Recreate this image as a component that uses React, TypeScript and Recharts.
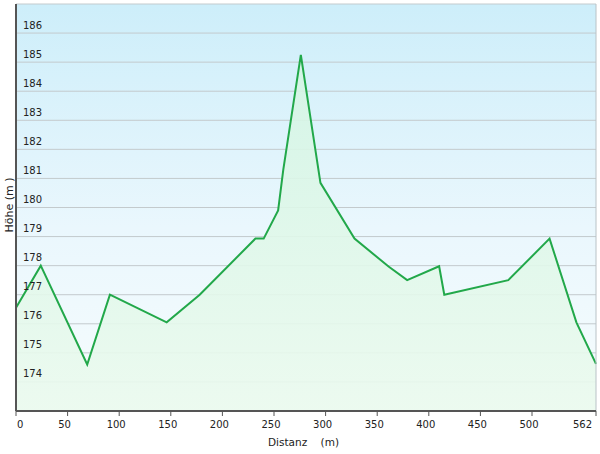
import React from 'react';
import { AreaChart, Area, XAxis, YAxis, CartesianGrid, ReferenceLine } from 'recharts';

const distances = [0, 24, 69, 91, 146, 178, 232, 240, 254, 259, 276, 295, 328, 361, 379, 410, 415, 477, 517, 543, 562];
const elevations = [176.55, 178.0, 174.6, 177.0, 176.05, 177.0, 178.93, 178.93, 179.9, 181.3, 185.25, 180.85, 178.93, 177.97, 177.5, 177.98, 177.0, 177.5, 178.93, 176.05, 174.62];
const xTicks = [0, 50, 100, 150, 200, 250, 300, 350, 400, 450, 500, 562];
const yTicks = [173, 174, 175, 176, 177, 178, 179, 180, 181, 182, 183, 184, 185, 186, 187];

const data = distances.map((d, i) => ({ d, h: elevations[i] }));

const FONT = '"DejaVu Sans", Verdana, sans-serif';

const XTick = (props: any) => {
  const { x, y, payload } = props;
  const v = payload.value;
  let anchor: 'start' | 'middle' | 'end' = 'middle';
  let dx = -3;
  if (v === 0) { anchor = 'start'; dx = 1; }
  if (v === 562) { anchor = 'end'; dx = -4; }
  return (
    <text x={x + dx} y={y - 1} dy="0.71em" textAnchor={anchor} fontFamily={FONT} fontSize={10} fill="#222">
      {v}
    </text>
  );
};

const YTick = (props: any) => {
  const { y, payload } = props;
  const v = payload.value;
  if (v === 173 || v === 187) return <g />;
  return (
    <text x={23} y={y - 8} dy="0.35em" textAnchor="start" fontFamily={FONT} fontSize={10} fill="#222">
      {v}
    </text>
  );
};

export default function App() {
  return (
    <div style={{ position: 'absolute', left: 0, top: 0, width: 600, height: 454, background: '#fff' }}>
      <AreaChart width={600} height={454} data={data} margin={{ top: 4, right: 4, bottom: 13, left: 15 }}>
        <defs>
          <linearGradient id="bg" x1="0" y1="0" x2="0" y2="1">
            <stop offset="0%" stopColor="#cdeefa" />
            <stop offset="55%" stopColor="#eaf7fd" />
            <stop offset="100%" stopColor="#f6fcfd" />
          </linearGradient>
          <linearGradient id="areaFill" x1="0" y1="0" x2="0" y2="1">
            <stop offset="0%" stopColor="#d4f5e4" stopOpacity={0.9} />
            <stop offset="100%" stopColor="#ebfaee" stopOpacity={0.9} />
          </linearGradient>
        </defs>
        <CartesianGrid vertical={false} stroke="#c3cacd" strokeWidth={1} fill="url(#bg)" fillOpacity={1} />
        <XAxis
          dataKey="d"
          type="number"
          domain={[0, 562]}
          ticks={xTicks}
          interval={0}
          height={30}
          tick={<XTick />}
          tickSize={5}
          tickMargin={6}
          axisLine={{ stroke: '#555', strokeWidth: 2 }}
          tickLine={{ stroke: '#555' }}
          label={{
            content: () => (
              <text x={303.5} y={442} dy="0.35em" textAnchor="middle" fontFamily={FONT} fontSize={10.5} fill="#222" style={{ whiteSpace: 'pre' }}>
                {'Distanz    (m)'}
              </text>
            ),
          }}
        />
        <ReferenceLine x={562} stroke="#b9c2c6" strokeWidth={1} />
        <Area
          type="linear"
          dataKey="h"
          stroke="#22a84a"
          strokeWidth={2}
          fill="url(#areaFill)"
          fillOpacity={1}
          baseValue={173}
          isAnimationActive={false}
          dot={false}
          activeDot={false}
        />
        <YAxis
          type="number"
          domain={[173, 187]}
          ticks={yTicks}
          interval={0}
          width={1}
          tick={<YTick />}
          tickLine={false}
          axisLine={{ stroke: '#555', strokeWidth: 2 }}
          label={{
            content: () => (
              <text x={9} y={205} dy="0.35em" transform="rotate(-90 9 205)" textAnchor="middle" fontFamily={FONT} fontSize={11} fill="#222" style={{ whiteSpace: 'pre' }}>
                {'Höhe (m )'}
              </text>
            ),
          }}
        />
      </AreaChart>
    </div>
  );
}
